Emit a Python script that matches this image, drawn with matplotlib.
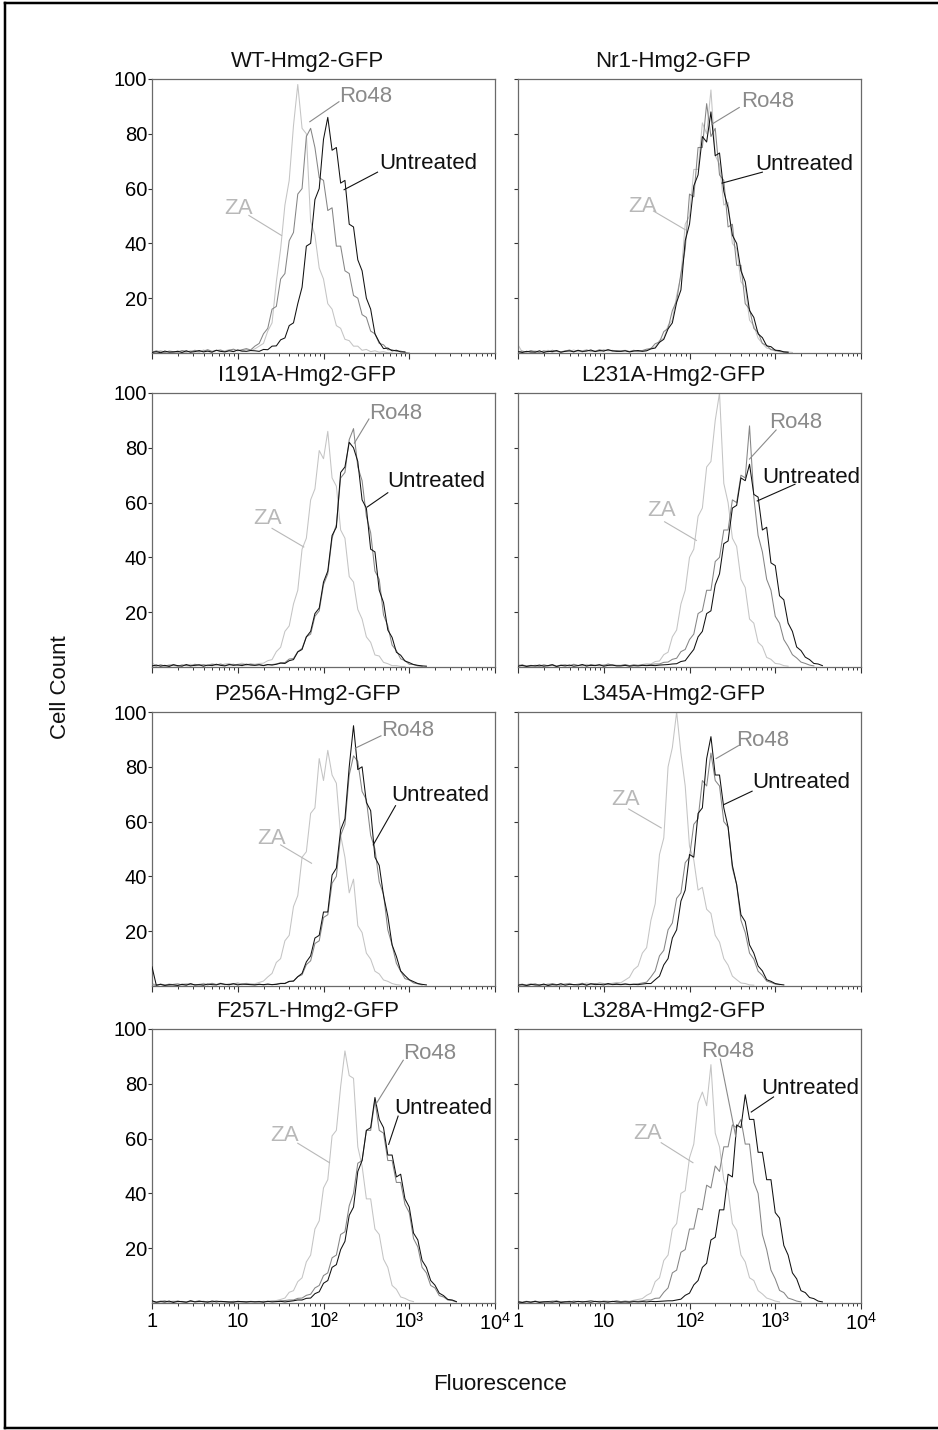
import numpy as np
import matplotlib
matplotlib.use('Agg')
import matplotlib.pyplot as plt
from matplotlib.ticker import LogLocator, NullFormatter, FixedLocator, FixedFormatter
from matplotlib.lines import Line2D

plt.rcParams['font.family'] = ['Liberation Sans', 'DejaVu Sans']
plt.rcParams['mathtext.fontset'] = 'custom'
plt.rcParams['mathtext.rm'] = 'Liberation Sans'
plt.rcParams['mathtext.it'] = 'Liberation Sans'

# ---------------- data ----------------
# channel positions (log10 of fluorescence)
LOG_FLUOR = [0.00,0.05,0.10,0.15,0.20,0.25,0.30,0.35,0.40,0.45,0.50,0.55,0.60,0.65,0.70,0.75,0.80,0.85,0.90,0.95,
             1.00,1.05,1.10,1.15,1.20,1.25,1.30,1.35,1.40,1.45,1.50,1.55,1.60,1.65,1.70,1.75,1.80,1.85,1.90,1.95,
             2.00,2.05,2.10,2.15,2.20,2.25,2.30,2.35,2.40,2.45,2.50,2.55,2.60,2.65,2.70,2.75,2.80,2.85,2.90,2.95,
             3.00,3.05,3.10,3.15,3.20,3.25,3.30,3.35,3.40,3.45,3.50,3.55,3.60,3.65,3.70,3.75,3.80,3.85,3.90,3.95,4.00]

TITLES = ['WT-Hmg2-GFP', 'Nr1-Hmg2-GFP', 'I191A-Hmg2-GFP', 'L231A-Hmg2-GFP',
          'P256A-Hmg2-GFP', 'L345A-Hmg2-GFP', 'F257L-Hmg2-GFP', 'L328A-Hmg2-GFP']
SERIES = ['ZA', 'Ro48', 'Untreated']
Y_TICKS = [20, 40, 60, 80, 100]
X_TICKS = [1, 10, 100, 1000, 10000]
X_TICK_LABELS = ['1', '10', '10²', '10³', '10$^{\\mathrm{4}}$']

WT_ZA = [0.6,0.2,0.9,0.3,0.5,0.1, 0.8,0.4,0.2,0.9,0.5,0.3, 1.1,0.6,0.4,1.0,0.5,0.8, 1.2,0.7,1.0,0.6,1.3,0.9,
         1.5,2.5,3.5,8,11,26,38,54,63,83,98,82,80,48,43,31,27,18,16,10,9,5,4.5,2.5,2.5,1,1.3,0.5,0.8,0.3,0.5,0.1,0]
WT_RO48 = [0.3,0.8,0.4,0.2,0.7,0.5, 0.3,0.9,0.6,0.4,1.0,0.5, 0.7,1.2,0.6,0.9,1.1,0.5, 1.0,1.4,0.8,1.2,1.6,1.1,
           2.5,3.5,7,9,16,17,27,29,41,44,58,60,79,82,75,64,63,52,53,39,39,30,29,21,20,14,13,8,7,3.5,3,1.2,1.2,0.6,0.7,0.2,0]
WT_UNT = [0.2,0.5,0.1,0.7,0.3,0.4, 0.6,0.2,0.8,0.3,0.5,0.9, 0.4,0.7,0.3,1.0,0.6,0.4, 0.8,0.5,1.1,0.7,0.6,0.9,
          0.8,0.6,1.3,1.2,2.5,2.6,4.8,5.5,10,11,18,24,39,40,56,60,78,86,74,75,62,63,47,46,34,30,20,16,7,4,1.6,1.8,0.8,1,0.4,0.4]

NR1_ZA = [3.0,0.3,0.6,0.2,0.8,0.4, 0.5,1.0,0.3,0.7,0.4,0.9, 0.6,1.1,0.5,0.8,1.2,0.6, 0.9,0.5,1.3,0.7,1.0,0.6,
          0.8,1.0,0.6,0.8,0.5,0.8,1,1.8,2.2,4.6,5.4,10,12,21,28,47,50,67,67,84,80,96,72,69,54,55,40,38,26,24,12,10,5.4,3.5,1.8,1.4,0.7,0.6,0.3,0.4,0.2]
NR1_RO48 = [0.4,0.7,0.3,0.9,0.5,0.2, 0.8,0.4,1.0,0.6,0.3,0.7, 1.1,0.5,0.9,0.4,1.0,0.7, 0.6,1.2,0.8,1.1,0.7,0.9,
            0.7,0.9,0.5,1.0,0.6,0.9,1.4,1.6,3.4,4,7.8,9,15.5,19,29,38,58,57,75,75,91,79,82,65,63,46,47,32,32,18,16,9,7.5,3.5,2.8,1.2,1.1,0.5,0.4,0.2]
NR1_UNT = [0.5,0.2,0.6,0.4,0.3,0.8, 0.2,0.6,0.5,0.9,0.3,0.6, 0.8,0.4,1.0,0.6,0.7,1.1, 0.5,0.9,0.7,1.2,0.8,0.6,
           0.6,0.8,0.4,0.7,0.9,0.6,0.8,1.5,1.8,3.9,5,8.8,11,18.5,23,41,47,61,65,79,77,88,72,73,59,53,43,40,30,26,15.5,13,7,5.6,2.6,2.3,1,0.9,0.4,0.3]

I191A_ZA = [1.5,0.4,0.7,0.2,0.9,0.5, 0.3,0.8,0.6,1.0,0.4,0.7, 0.9,0.5,1.2,0.8,0.6,1.1, 1.3,0.7,1.0,1.4,0.9,1.2,
            1.0,1.3,1.4,2.3,2.7,5.6,7.2,13,15,23,28,43,47,61,65,79,76,86,69,66,50,47,33,31,21,17.5,11,9,4.4,4,1.7,1.2,0.5,0.5,0.2,0.2]
I191A_RO48 = [0.6,0.3,0.8,0.4,0.5,0.9, 0.3,0.7,0.5,0.4,1.0,0.6, 0.8,0.5,0.9,0.7,1.1,0.6, 0.8,1.0,0.6,0.9,0.7,1.0,
              0.7,0.9,0.6,0.8,0.9,1.1,1.6,1.6,2.9,3.1,5.6,6.8,11,12,18.5,20.5,30,34,47,52,69,71,83,87,73,68,55,49,35,32,19,15,8,6,3,2.3,1,0.9,0.4,0.3]
I191A_UNT = [0.4,0.7,0.3,0.6,0.2,0.8, 0.5,0.3,0.9,0.4,0.6,0.8, 0.3,0.7,0.5,1.0,0.6,0.4, 0.9,0.6,0.8,0.5,1.0,0.7,
             0.6,0.8,0.5,0.9,0.7,1.0,1.4,1.3,2.3,2.7,5.5,6.4,11,13,19.5,21.5,31,35,48,51,71,73,82,80,75,61,58,43,42,28,23.5,13.5,10.8,5.4,4.3,2.2,1.6,0.9,0.6,0.4,0.3]

L231A_ZA = [0.8,0.3,0.5,0.2,0.7,0.4, 0.9,0.3,0.6,0.2,0.8,0.5, 0.4,0.9,0.6,0.3,1.0,0.5, 0.7,0.4,0.9,0.6,0.8,0.5,
            0.5,0.8,0.4,0.7,0.6,0.9,1.2,1.1,2,2.2,4.5,5.4,11,13.5,23,28,40,43,55,58,73,75,90,100,67,60,47,44,32,29,17.5,16,9,7.5,3.5,2.8,1.3,1.1,0.5,0.3]
L231A_RO48 = [0.5,0.8,0.3,0.6,0.4,0.2, 0.7,0.5,0.9,0.3,0.6,0.8, 0.4,1.0,0.5,0.7,0.3,0.9, 0.6,0.8,0.5,1.1,0.7,0.6,
              0.6,0.9,0.5,0.8,0.6,0.8,0.7,0.9,1.1,1.1,1.7,1.8,2.8,3.2,5.6,6.4,10,12,19.5,20.5,28,28,38.5,40,50,50,61,60,70,69,88,62,48,42,32,28,18.5,16,10,7.5,4.5,3.3,1.8,1.3,0.7,0.4]
L231A_UNT = [0.3,0.6,0.2,0.5,0.4,0.7, 0.3,0.5,0.8,0.2,0.6,0.4, 0.7,0.3,0.5,0.9,0.4,0.6, 0.5,0.8,0.3,0.6,0.7,0.4,
             0.4,0.6,0.3,0.5,0.4,0.6,0.5,0.6,0.5,0.7,0.8,0.9,1.1,1.2,2,2.3,4.4,6.4,11,13,19.5,20.5,30,34,45,46,58,59,69,68,74,63,62,50,51,38,37,26,24.5,16,13,7.3,6,3.6,2.7,1.3,1.1,0.5]

P256A_ZA = [0.9,0.4,0.6,0.2,0.8,0.5, 0.3,0.7,0.9,0.4,0.6,0.3, 1.0,0.5,0.8,0.6,1.1,0.4, 0.9,0.7,1.2,0.6,1.0,0.8,
            0.8,1.3,1.8,3.3,4.6,8.6,10,16.5,18.5,29,33,47,49,63,65,83,75,86,77,74,55,47,34,39,22,19.5,12,9.8,5.4,4.4,2.2,1.7,0.9,0.5,0.3]
P256A_RO48 = [0.5,0.2,0.7,0.4,0.3,0.6, 0.8,0.4,0.5,0.9,0.3,0.6, 0.7,0.4,1.0,0.5,0.8,0.6, 0.4,0.9,0.7,0.5,0.8,0.6,
              0.5,0.7,0.4,0.6,0.5,0.7,1,1,1.6,1.8,3.4,4.1,7.8,9.2,15.5,16.5,25,26,37.5,40,55,59,77,84,82,71,68,55,50,38,33.5,20.5,15,8.3,5.4,2.7,2.2,1.1,0.8,0.4]
P256A_UNT = [7.0,0.3,0.6,0.2,0.5,0.4, 0.2,0.6,0.3,0.8,0.4,0.5, 0.3,0.7,0.5,0.4,0.9,0.6, 0.5,0.8,0.4,0.7,0.6,0.5,
             0.4,0.6,0.5,0.7,0.5,0.6,0.9,0.9,1.7,1.8,3.4,4.6,8.8,11,17.5,18.5,27,27,40.5,43,57,61,80,95,79,80,67,64,47,44,33,25.5,15,10.8,5.5,3.8,2.3,1.6,0.9,0.6,0.4]

L345A_ZA = [0.7,0.3,0.5,0.9,0.4,0.6, 0.2,0.8,0.5,0.3,0.9,0.6, 1.0,0.4,0.7,0.5,1.1,0.8, 0.6,1.2,0.9,0.7,1.0,1.3,
            1.2,2.2,3.2,6,7.3,12,14,24,30,48,54,80,87,100,85,73,51,46,35,36,28,26.5,18.5,16,10,7.6,3.6,2.3,1.1,0.9,0.4,0.3]
L345A_RO48 = [0.4,0.7,0.2,0.5,0.8,0.3, 0.6,0.4,0.9,0.5,0.3,0.7, 0.8,0.5,0.6,1.0,0.4,0.7, 0.9,0.6,0.8,0.5,0.7,0.9,
              0.6,0.8,0.6,0.7,0.8,1.1,1.4,3.3,5.5,11,13,20.5,23,32,34,45,47,59,61,75,73,85,75,73,60,58,43,37,24,19.5,12,9.8,5.4,3.9,1.8,1.3,0.7,0.5]
L345A_UNT = [0.3,0.5,0.2,0.6,0.4,0.3, 0.7,0.2,0.5,0.4,0.8,0.3, 0.6,0.5,0.4,0.7,0.3,0.8, 0.5,0.6,0.4,0.9,0.5,0.6,
             0.5,0.7,0.5,0.6,0.5,0.7,0.9,0.9,2.3,3.6,7.7,10,17.5,20.5,31,35,48,47,63,65,83,91,77,77,65,58,44,37,26,23.5,15,12,7.3,5.5,2.3,1.7,0.9,0.6,0.4]

F257L_ZA = [0.6,0.3,0.8,0.2,0.5,0.7, 0.4,0.6,0.3,0.9,0.5,0.4, 0.7,0.3,0.6,0.8,0.4,0.5, 0.2,0.4,0.6,0.3,0.5,0.4,
            0.5,0.6,0.4,0.7,0.6,0.9,1.3,1.8,3.9,4.5,7.8,9.2,15,17.5,27,30,42,45,61,63,79,92,83,82,57,50,38,38,27,25,16,13,6.4,5,2.2,1.7,0.9,0.5]
F257L_RO48 = [0.5,0.2,0.6,0.8,0.3,0.5, 0.7,0.4,0.3,0.6,0.5,0.8, 0.4,0.6,0.3,0.7,0.5,0.4, 0.3,0.6,0.4,0.5,0.3,0.6,
              0.5,0.4,0.6,0.5,0.7,0.6,0.8,0.9,1.1,1.1,1.7,1.8,2.8,3.2,5.5,6.4,10,11,16.5,17.5,25,26,35.5,40,51,52,63,63,74,63,62,52,52,44,44,36,33,23.5,20.5,13,11,6.4,5.5,2.7,2.2,1.1,0.9,0.4]
F257L_UNT = [0.8,0.3,0.5,0.4,0.7,0.2, 0.6,0.5,0.3,0.8,0.4,0.6, 0.5,0.3,0.7,0.4,0.6,0.5, 0.4,0.3,0.6,0.5,0.4,0.5,
             0.4,0.5,0.3,0.6,0.4,0.5,0.6,0.4,0.6,0.8,1.1,1.1,1.7,1.8,3.4,4.1,7.2,8.2,13,14,19.5,22.5,32,35,48,52,63,64,75,67,64,54,54,46,47,38,35,25.5,23,15.5,13,8.2,6.5,3.6,2.7,1.3,1.1,0.5]

L328A_ZA = [0.5,0.3,0.7,0.2,0.4,0.6, 0.3,0.5,0.8,0.2,0.6,0.4, 0.7,0.3,0.5,0.6,0.4,0.8, 0.5,0.7,0.4,0.6,0.5,0.7,
            0.5,0.8,0.6,1,1.3,1.6,2.8,3.6,7.8,9.2,15.5,17.5,27,29,40,41,53,58,73,77,72,87,62,57,45,41,29,26.5,17.5,15,9.2,8.2,4.5,3.3,1.8,1.3,0.7,0.4]
L328A_RO48 = [0.6,0.2,0.5,0.3,0.7,0.4, 0.5,0.3,0.6,0.8,0.4,0.5, 0.3,0.7,0.5,0.4,0.6,0.9, 0.5,0.4,0.7,0.6,0.5,0.8,
              0.5,0.6,0.5,0.7,0.6,0.8,1.1,1.1,1.7,1.8,3.9,5.5,11,12,18.5,19.5,27,27,34.5,34,43,42,50,48,57,57,65,64,67,58,58,44,40,25,19.5,12,8.8,4.6,3.8,1.8,1.3,0.7,0.4]
L328A_UNT = [0.4,0.2,0.5,0.3,0.6,0.2, 0.4,0.5,0.3,0.6,0.2,0.4, 0.5,0.3,0.6,0.4,0.5,0.3, 0.6,0.4,0.5,0.3,0.6,0.4,
             0.3,0.4,0.3,0.5,0.4,0.5,0.4,0.6,0.5,0.6,0.7,0.8,0.8,1.1,1.4,2.8,3.6,6.6,8.2,13,14.5,23,24,34,34,47,46,65,64,76,67,67,55,55,45,45,33,31,21,17.5,11,8.8,4.5,3.8,2,1.6,0.7,0.4]

CURVES = [
    (WT_ZA, WT_RO48, WT_UNT),
    (NR1_ZA, NR1_RO48, NR1_UNT),
    (I191A_ZA, I191A_RO48, I191A_UNT),
    (L231A_ZA, L231A_RO48, L231A_UNT),
    (P256A_ZA, P256A_RO48, P256A_UNT),
    (L345A_ZA, L345A_RO48, L345A_UNT),
    (F257L_ZA, F257L_RO48, F257L_UNT),
    (L328A_ZA, L328A_RO48, L328A_UNT),
]

# ---------------- layout / style ----------------
# label placement per panel: series -> (text log-x, text baseline y, line start (logx,y), line end (logx,y))
LABELS = [
    {'Ro48': (2.49, 91.7, 2.18, 91.7, 1.84, 84.4), 'Untreated': (3.22, 67.3, 2.63, 66.0, 2.24, 59.6), 'ZA': (1.01, 50.9, 1.13, 50.2, 1.51, 42.9)},
    {'Ro48': (2.91, 89.6, 2.58, 89.6, 2.26, 83.5), 'Untreated': (3.34, 66.7, 2.85, 66.0, 2.38, 62.0), 'ZA': (1.45, 51.5, 1.58, 51.8, 1.95, 45.0)},
    {'Ro48': (2.84, 90.5, 2.53, 90.5, 2.36, 81.7), 'Untreated': (3.31, 65.8, 2.75, 63.6, 2.51, 58.4), 'ZA': (1.35, 52.3, 1.40, 50.6, 1.77, 43.8)},
    {'Ro48': (3.24, 87.4, 3.01, 86.5, 2.70, 75.9), 'Untreated': (3.42, 67.3, 3.23, 66.7, 2.79, 60.6), 'ZA': (1.68, 55.1, 1.71, 53.0, 2.08, 46.2)},
    {'Ro48': (2.98, 91.1, 2.67, 91.3, 2.37, 86.8), 'Untreated': (3.36, 67.4, 2.84, 65.8, 2.58, 51.5), 'ZA': (1.39, 51.9, 1.50, 51.5, 1.86, 44.8)},
    {'Ro48': (2.85, 87.7, 2.57, 87.7, 2.31, 83.0), 'Untreated': (3.30, 72.3, 2.73, 71.1, 2.40, 66.2), 'ZA': (1.26, 65.9, 1.29, 64.6, 1.67, 57.7)},
    {'Ro48': (3.24, 89.1, 2.93, 88.6, 2.61, 72.5), 'Untreated': (3.40, 68.8, 2.87, 68.2, 2.76, 57.9), 'ZA': (1.55, 59.1, 1.70, 58.3, 2.07, 51.2)},
    {'Ro48': (2.45, 89.8, 2.36, 89.0, 2.54, 60.7), 'Untreated': (3.41, 76.1, 2.98, 75.2, 2.72, 69.7), 'ZA': (1.51, 59.7, 1.67, 58.5, 2.04, 51.2)},
]

LINE_COLORS = {'ZA': '#c4c4c4', 'Ro48': '#858585', 'Untreated': '#111111'}
TEXT_COLORS = {'ZA': '#b8b8b8', 'Ro48': '#8a8a8a', 'Untreated': '#111111'}
ZORDERS = {'ZA': 2, 'Ro48': 3, 'Untreated': 4}

W, H = 938, 1430
fig = plt.figure(figsize=(W / 100, H / 100), dpi=100)

COL_LEFT = [152, 518]
ROW_TOP = [79, 393, 712, 1029]
AX_W, AX_H = 343, 274
PX = 72 / 100  # points per pixel

for k, title in enumerate(TITLES):
    r, c = divmod(k, 2)
    ax = fig.add_axes([COL_LEFT[c] / W, 1 - (ROW_TOP[r] + AX_H) / H, AX_W / W, AX_H / H])
    ax.set_xscale('log')
    for name, ys in zip(SERIES, CURVES[k]):
        y = np.array(ys, dtype=float)
        x = 10 ** np.array(LOG_FLUOR[:len(y)])
        ax.plot(x, y, color=LINE_COLORS[name], lw=0.75, zorder=ZORDERS[name])
    ax.set_xlim(1, 1e4)
    ax.set_ylim(0, 100)

    for name in ['ZA', 'Ro48', 'Untreated']:
        tx, ty, x0, y0, x1, y1 = LABELS[k][name]
        ax.text(10 ** tx, ty, name, color=TEXT_COLORS[name], fontsize=16,
                ha='center', va='baseline', zorder=6)
        ax.plot([10 ** x0, 10 ** x1], [y0, y1], color=TEXT_COLORS[name], lw=0.8, zorder=6)

    ax.xaxis.set_major_locator(FixedLocator(X_TICKS))
    ax.xaxis.set_minor_locator(LogLocator(base=10, subs=np.arange(2, 10)))
    ax.xaxis.set_minor_formatter(NullFormatter())
    if r == 3:
        ax.xaxis.set_major_formatter(FixedFormatter(X_TICK_LABELS))
    else:
        ax.xaxis.set_major_formatter(NullFormatter())
    ax.yaxis.set_major_locator(FixedLocator(Y_TICKS))
    if c == 0:
        ax.set_yticklabels([str(v) for v in Y_TICKS])
    else:
        ax.set_yticklabels([])

    ax.tick_params(axis='x', which='major', direction='out', length=6 * PX, width=0.8,
                   color='#333333', labelsize=14.5, pad=2)
    ax.tick_params(axis='x', which='minor', direction='out', length=3 * PX, width=0.7, color='#333333')
    ax.tick_params(axis='y', which='major', direction='out', length=4 * PX, width=0.8,
                   color='#333333', labelsize=14.5, pad=0.5)
    for sp in ax.spines.values():
        sp.set_color('#6a6a6a')
        sp.set_linewidth(0.9)

    ax.text(0.453, 1 + 12 / AX_H, title, transform=ax.transAxes, ha='center', va='baseline',
            fontsize=16, color='#111111')

fig.text(61 / W, 1 - 687 / H, 'Cell Count', rotation=90, ha='center', va='center', fontsize=16, color='#111111')
fig.text(500 / W, 1 - 1390 / H, 'Fluorescence', ha='center', va='baseline', fontsize=16, color='#111111')

# outer frame (left, top, bottom visible)
lw_frame = 2.5 * PX
fig.add_artist(Line2D([4.5 / W, 4.5 / W], [1 - 2.5 / H, 1 - 1428 / H], color='black', lw=lw_frame))
fig.add_artist(Line2D([4.5 / W, 1.0], [1 - 2.5 / H, 1 - 2.5 / H], color='black', lw=lw_frame))
fig.add_artist(Line2D([4.5 / W, 1.0], [1 - 1428 / H, 1 - 1428 / H], color='black', lw=lw_frame))

fig.savefig('out.png', dpi=100)
